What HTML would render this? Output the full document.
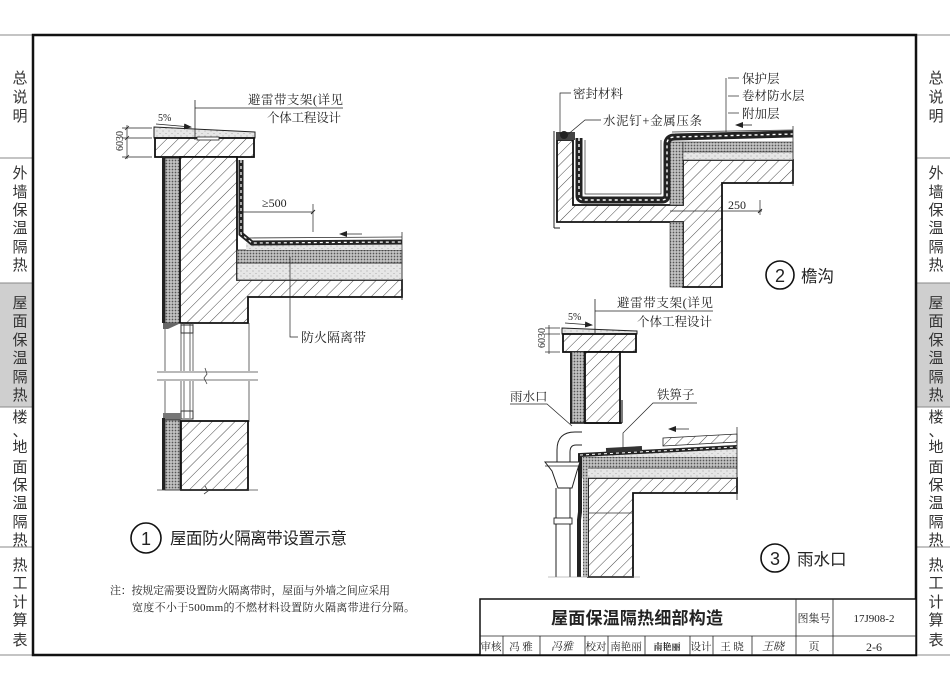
<!DOCTYPE html>
<html><head><meta charset="utf-8">
<style>
html,body{margin:0;padding:0;background:#fff;width:950px;height:691px;overflow:hidden;}
svg{display:block;}
text{font-family:"Liberation Sans","Noto Sans CJK SC",sans-serif;fill:#222;}
.f{font-family:"Liberation Serif","Noto Serif CJK SC",serif;fill:#222;}
.side{font-size:15px;fill:#333;}
</style></head><body>
<svg width="950" height="691" viewBox="0 0 950 691" xmlns="http://www.w3.org/2000/svg">
<defs>
<pattern id="h" width="8" height="8" patternUnits="userSpaceOnUse" patternTransform="rotate(45)"><rect width="8" height="8" fill="#fff"/><line x1="0" y1="0" x2="0" y2="8" stroke="#4a4a4a" stroke-width="1"/></pattern>
<pattern id="ins" width="3" height="3" patternUnits="userSpaceOnUse"><rect width="3" height="3" fill="#c2c2c2"/><circle cx="1.5" cy="1.5" r="0.85" fill="#555"/></pattern>
<pattern id="scr" width="6" height="5" patternUnits="userSpaceOnUse"><rect width="6" height="5" fill="#e6e6e6"/><circle cx="1" cy="1" r="0.5" fill="#888"/><circle cx="4" cy="3.5" r="0.5" fill="#999"/></pattern>
<marker id="ar" markerWidth="8" markerHeight="6" refX="7" refY="3" orient="auto" markerUnits="userSpaceOnUse"><path d="M0,0 L8,3 L0,6 z" fill="#222"/></marker>
</defs>

<!-- ===== Sidebars ===== -->
<rect x="0" y="283" width="32" height="124" fill="#cfcfcf"/>
<rect x="917" y="283" width="33" height="124" fill="#cfcfcf"/>
<g stroke="#888" stroke-width="1">
<line x1="0" y1="35" x2="33" y2="35"/><line x1="0" y1="158" x2="33" y2="158"/>
<line x1="0" y1="283" x2="33" y2="283"/><line x1="0" y1="407" x2="33" y2="407"/>
<line x1="0" y1="547" x2="33" y2="547"/><line x1="0" y1="655" x2="33" y2="655"/>
<line x1="916" y1="35" x2="950" y2="35"/><line x1="916" y1="158" x2="950" y2="158"/>
<line x1="916" y1="283" x2="950" y2="283"/><line x1="916" y1="407" x2="950" y2="407"/>
<line x1="916" y1="547" x2="950" y2="547"/><line x1="916" y1="655" x2="950" y2="655"/>
</g>
<g class="side" text-anchor="middle">
<text x="20" y="83" class="side">总</text><text x="20" y="102" class="side">说</text><text x="20" y="121" class="side">明</text>
<text x="20" y="178" class="side">外</text><text x="20" y="197" class="side">墙</text><text x="20" y="215" class="side">保</text><text x="20" y="233" class="side">温</text><text x="20" y="252" class="side">隔</text><text x="20" y="270" class="side">热</text>
<text x="20" y="308" class="side">屋</text><text x="20" y="326" class="side">面</text><text x="20" y="345" class="side">保</text><text x="20" y="363" class="side">温</text><text x="20" y="382" class="side">隔</text><text x="20" y="400" class="side">热</text>
<text x="20" y="422" class="side">楼</text><text x="20" y="436" class="side">、</text><text x="20" y="452" class="side">地</text><text x="20" y="472" class="side">面</text><text x="20" y="490" class="side">保</text><text x="20" y="508" class="side">温</text><text x="20" y="527" class="side">隔</text><text x="20" y="545" class="side">热</text>
<text x="20" y="570" class="side">热</text><text x="20" y="588" class="side">工</text><text x="20" y="607" class="side">计</text><text x="20" y="625" class="side">算</text><text x="20" y="645" class="side">表</text>

<text x="936" y="83" class="side">总</text><text x="936" y="102" class="side">说</text><text x="936" y="121" class="side">明</text>
<text x="936" y="178" class="side">外</text><text x="936" y="197" class="side">墙</text><text x="936" y="215" class="side">保</text><text x="936" y="233" class="side">温</text><text x="936" y="252" class="side">隔</text><text x="936" y="270" class="side">热</text>
<text x="936" y="308" class="side">屋</text><text x="936" y="326" class="side">面</text><text x="936" y="345" class="side">保</text><text x="936" y="363" class="side">温</text><text x="936" y="382" class="side">隔</text><text x="936" y="400" class="side">热</text>
<text x="936" y="422" class="side">楼</text><text x="936" y="436" class="side">、</text><text x="936" y="452" class="side">地</text><text x="936" y="472" class="side">面</text><text x="936" y="490" class="side">保</text><text x="936" y="508" class="side">温</text><text x="936" y="527" class="side">隔</text><text x="936" y="545" class="side">热</text>
<text x="936" y="570" class="side">热</text><text x="936" y="588" class="side">工</text><text x="936" y="607" class="side">计</text><text x="936" y="625" class="side">算</text><text x="936" y="645" class="side">表</text>
</g>

<!-- ===== Main frame ===== -->
<rect x="33" y="35" width="883" height="620" fill="none" stroke="#111" stroke-width="2.5"/>

<!-- ===== Detail 1 ===== -->
<polygon points="154,127 255,132 255,138 154,138" fill="url(#scr)" stroke="#222" stroke-width="1"/>
<rect x="155" y="138" width="99" height="19" fill="url(#h)" stroke="#111" stroke-width="1.8"/>
<rect x="197" y="137" width="22" height="3" fill="#fff" stroke="#222" stroke-width="0.8"/>
<line x1="195" y1="100" x2="195" y2="140" stroke="#222" stroke-width="0.8"/>
<line x1="195" y1="108" x2="343" y2="108" stroke="#222" stroke-width="0.7"/>
<text x="248" y="104" font-size="12.5" class="f" textLength="95">避雷带支架(详见</text>
<text x="267" y="122" font-size="12.5" class="f" textLength="74">个体工程设计</text>
<text x="158" y="121" font-size="10" class="f">5%</text>
<line x1="156" y1="124" x2="191" y2="127" stroke="#222" stroke-width="0.8" marker-end="url(#ar)"/>
<g stroke="#222" stroke-width="0.7">
<line x1="127" y1="125" x2="127" y2="159"/>
<line x1="122" y1="128" x2="152" y2="128"/><line x1="122" y1="138" x2="152" y2="138"/><line x1="122" y1="157" x2="152" y2="157"/>
<line x1="125" y1="130" x2="129" y2="126"/><line x1="125" y1="140" x2="129" y2="136"/><line x1="125" y1="159" x2="129" y2="155"/>
</g>
<text transform="translate(123,141) rotate(-90)" text-anchor="middle" font-size="10" class="f">6030</text>
<rect x="162" y="157" width="3" height="166" fill="#222"/>
<rect x="165" y="158" width="15" height="165" fill="url(#ins)" stroke="#222" stroke-width="0.8"/>
<polygon points="180,157 237,157 237,280 402,280 402,297 248,297 248,323 180,323" fill="url(#h)" stroke="#111" stroke-width="1.8"/>
<rect x="237" y="263" width="165" height="17" fill="url(#scr)" stroke="#333" stroke-width="0.8"/>
<rect x="237" y="250" width="165" height="13" fill="url(#ins)" stroke="#333" stroke-width="0.8"/>
<rect x="246" y="243" width="156" height="7" fill="url(#scr)"/>
<path d="M241,160 L241,234 L252,243 L402,242" fill="none" stroke="#222" stroke-width="5"/>
<path d="M241,160 L241,234 L252,243 L402,242" fill="none" stroke="#fff" stroke-width="1.2" stroke-dasharray="3,3"/>
<line x1="248" y1="238" x2="402" y2="237" stroke="#333" stroke-width="0.8"/>
<line x1="402" y1="232" x2="402" y2="300" stroke="#333" stroke-width="0.8"/>
<line x1="362" y1="234" x2="340" y2="234" stroke="#222" stroke-width="0.8" marker-end="url(#ar)"/>
<text x="262" y="207" font-size="12" class="f">≥500</text>
<line x1="237" y1="212" x2="313" y2="212" stroke="#222" stroke-width="0.7"/>
<line x1="313" y1="204" x2="313" y2="232" stroke="#222" stroke-width="0.7"/>
<line x1="311" y1="214" x2="315" y2="210" stroke="#222" stroke-width="0.9"/>
<polyline points="290,257 290,337 298,337" fill="none" stroke="#222" stroke-width="0.7"/>
<text x="301" y="342" font-size="13" class="f">防火隔离带</text>
<g stroke="#444" stroke-width="0.8">
<line x1="165" y1="323" x2="165" y2="418"/>
<line x1="181" y1="323" x2="181" y2="418"/><line x1="184" y1="323" x2="184" y2="418"/>
<line x1="190" y1="323" x2="190" y2="418"/><line x1="193" y1="323" x2="193" y2="418"/>
<line x1="249" y1="323" x2="249" y2="422"/>
</g>
<rect x="181" y="325" width="12" height="8" fill="none" stroke="#333" stroke-width="1"/>
<rect x="181" y="411" width="12" height="8" fill="none" stroke="#333" stroke-width="1"/>
<path d="M163,323 L181,323 L168,329 L163,329 Z" fill="#666"/>
<path d="M163,413 L181,413 L181,420 L163,420 Z" fill="#777"/>
<rect x="154" y="371" width="106" height="10" fill="#fff"/>
<g stroke="#444" stroke-width="0.8">
<line x1="157" y1="372" x2="258" y2="372"/><line x1="157" y1="380" x2="258" y2="380"/>
<polyline points="205,368 207,374 204,378 207,384" fill="none"/>
</g>
<rect x="162" y="418" width="3" height="72" fill="#222"/>
<rect x="165" y="420" width="15" height="70" fill="url(#ins)" stroke="#222" stroke-width="0.8"/>
<rect x="181" y="421" width="67" height="69" fill="url(#h)" stroke="#111" stroke-width="1.8"/>
<line x1="157" y1="490" x2="258" y2="490" stroke="#444" stroke-width="0.8"/>
<polyline points="205,486 208,491 204,494" fill="none" stroke="#444" stroke-width="0.8"/>
<circle cx="146" cy="538" r="15" fill="none" stroke="#111" stroke-width="1.6"/>
<text x="146" y="545" text-anchor="middle" font-size="18">1</text>
<text x="170" y="544" font-size="16.5" textLength="177">屋面防火隔离带设置示意</text>
<text x="110" y="594" font-size="11" class="f" textLength="280">注：按规定需要设置防火隔离带时，屋面与外墙之间应采用</text>
<text x="132" y="611" font-size="11" class="f" textLength="283">宽度不小于500mm的不燃材料设置防火隔离带进行分隔。</text>

<!-- ===== Detail 2 ===== -->
<polygon points="557,140 573,140 573,205 683,205 683,160 793,160 793,183 722,183 722,287 683,287 683,222 557,222" fill="url(#h)" stroke="#111" stroke-width="1.8"/>
<rect x="670" y="142" width="13" height="63" fill="url(#ins)" stroke="#333" stroke-width="0.6"/>
<rect x="670" y="222" width="13" height="65" fill="url(#ins)" stroke="#333" stroke-width="0.6"/>
<rect x="683" y="142" width="110" height="10" fill="url(#ins)" stroke="#333" stroke-width="0.6"/>
<rect x="683" y="152" width="110" height="8" fill="url(#scr)" stroke="#333" stroke-width="0.6"/>
<path d="M579,138 L579,196 Q579,200 584,200 L662,200 Q667,200 667,195 L667,144 Q667,137 675,137 L793,134" fill="none" stroke="#222" stroke-width="7"/>
<path d="M579,138 L579,196 Q579,200 584,200 L662,200 Q667,200 667,195 L667,144 Q667,137 675,137 L793,134" fill="none" stroke="#fff" stroke-width="1.4" stroke-dasharray="3,3"/>
<path d="M585,140 L585,194 L661,194 L661,140" fill="none" stroke="#333" stroke-width="0.7"/>
<line x1="672" y1="132" x2="793" y2="130" stroke="#333" stroke-width="0.8"/>
<line x1="793" y1="126" x2="793" y2="186" stroke="#333" stroke-width="0.8"/>
<path d="M556,132 L575,132 L575,140 L556,140 Z" fill="#444"/>
<circle cx="564" cy="135" r="4" fill="#222"/>
<line x1="554" y1="131" x2="554" y2="228" stroke="#222" stroke-width="1"/>
<line x1="554" y1="228" x2="560" y2="228" stroke="#222" stroke-width="1"/>
<polyline points="560,134 560,93 571,93" fill="none" stroke="#222" stroke-width="0.7"/>
<text x="573" y="98" font-size="12.5" class="f">密封材料</text>
<polyline points="566,136 585,120 601,120" fill="none" stroke="#222" stroke-width="0.7"/>
<text x="603" y="125" font-size="12.5" class="f" textLength="99">水泥钉+金属压条</text>
<line x1="726" y1="78" x2="726" y2="132" stroke="#222" stroke-width="0.7"/>
<line x1="728" y1="78" x2="739" y2="78" stroke="#222" stroke-width="0.7"/>
<line x1="728" y1="96" x2="739" y2="96" stroke="#222" stroke-width="0.7"/>
<line x1="728" y1="113" x2="739" y2="113" stroke="#222" stroke-width="0.7"/>
<text x="742" y="83" font-size="12.5" class="f">保护层</text>
<text x="742" y="100" font-size="12.5" class="f">卷材防水层</text>
<text x="742" y="118" font-size="12.5" class="f">附加层</text>
<line x1="752" y1="125" x2="736" y2="125" stroke="#222" stroke-width="0.8" marker-end="url(#ar)"/>
<text x="728" y="209" font-size="12" class="f">250</text>
<line x1="670" y1="211" x2="762" y2="211" stroke="#222" stroke-width="0.7"/>
<line x1="760" y1="200" x2="760" y2="215" stroke="#222" stroke-width="0.7"/>
<line x1="758" y1="213" x2="762" y2="209" stroke="#222" stroke-width="0.9"/>
<circle cx="780" cy="275" r="14" fill="none" stroke="#111" stroke-width="1.6"/>
<text x="780" y="282" text-anchor="middle" font-size="18">2</text>
<text x="801" y="282" font-size="16.5">檐沟</text>

<!-- ===== Detail 3 ===== -->
<polygon points="562,328 637,331 637,334 562,334" fill="url(#scr)" stroke="#222" stroke-width="1"/>
<rect x="563" y="334" width="73" height="18" fill="url(#h)" stroke="#111" stroke-width="1.8"/>
<rect x="570" y="352" width="2.5" height="71" fill="#222"/>
<rect x="572" y="352" width="12" height="71" fill="url(#ins)" stroke="#333" stroke-width="0.6"/>
<rect x="585" y="352" width="35" height="71" fill="url(#h)" stroke="#111" stroke-width="1.8"/>
<line x1="570" y1="423" x2="622" y2="423" stroke="#111" stroke-width="1.5"/>
<line x1="622" y1="400" x2="622" y2="423" stroke="#222" stroke-width="1.2"/>
<line x1="595" y1="299" x2="595" y2="333" stroke="#222" stroke-width="0.8"/>
<line x1="595" y1="311" x2="713" y2="311" stroke="#222" stroke-width="0.7"/>
<text x="617" y="307" font-size="12.5" class="f" textLength="96">避雷带支架(详见</text>
<text x="637" y="326" font-size="12.5" class="f" textLength="75">个体工程设计</text>
<text x="568" y="320" font-size="10" class="f">5%</text>
<line x1="565" y1="323" x2="592" y2="325" stroke="#222" stroke-width="0.8" marker-end="url(#ar)"/>
<g stroke="#222" stroke-width="0.7">
<line x1="549" y1="325" x2="549" y2="354"/>
<line x1="545" y1="328" x2="560" y2="328"/><line x1="545" y1="334" x2="560" y2="334"/><line x1="545" y1="352" x2="560" y2="352"/>
</g>
<text transform="translate(545,338) rotate(-90)" text-anchor="middle" font-size="10" class="f">6030</text>
<polygon points="588,478 737,478 737,493 633,493 633,577 588,577" fill="url(#h)" stroke="#111" stroke-width="1.8"/>
<line x1="588" y1="513" x2="633" y2="513" stroke="#333" stroke-width="0.8"/>
<rect x="583" y="468" width="154" height="10" fill="url(#scr)" stroke="#333" stroke-width="0.6"/>
<rect x="583" y="457" width="154" height="11" fill="url(#ins)" stroke="#333" stroke-width="0.6"/>
<polygon points="583,453 737,446 737,457 583,457" fill="url(#scr)"/>
<rect x="583" y="457" width="5" height="120" fill="url(#ins)"/>
<path d="M579,577 L579,520 L580,512 L580,455 L737,447" fill="none" stroke="#222" stroke-width="4"/>
<path d="M580,455 L737,447" fill="none" stroke="#fff" stroke-width="1" stroke-dasharray="3,3"/>
<polygon points="663,438 737,434 737,442 663,446" fill="url(#h)" stroke="#222" stroke-width="0.8"/>
<rect x="606" y="447" width="36" height="5" fill="#333" transform="rotate(-3 624 449)"/>
<line x1="737" y1="427" x2="737" y2="500" stroke="#333" stroke-width="0.8"/>
<line x1="689" y1="429" x2="669" y2="429" stroke="#222" stroke-width="0.8" marker-end="url(#ar)"/>
<path d="M582,432 L575,432 Q557,432 557,450 L557,468" fill="none" stroke="#222" stroke-width="1"/>
<path d="M582,445 L576,445 Q570,445 570,452 L570,468" fill="none" stroke="#222" stroke-width="1"/>
<polygon points="545,462 580,462 577,471 572,488 558,488 552,471" fill="#fff" stroke="#222" stroke-width="1"/>
<line x1="545" y1="466" x2="580" y2="466" stroke="#222" stroke-width="0.8"/>
<line x1="556" y1="488" x2="556" y2="577" stroke="#222" stroke-width="1"/>
<line x1="570" y1="488" x2="570" y2="577" stroke="#222" stroke-width="1"/>
<rect x="554" y="518" width="18" height="6" fill="#fff" stroke="#222" stroke-width="0.9"/>
<line x1="548" y1="577" x2="640" y2="577" stroke="#888" stroke-width="0.6"/>
<text x="510" y="401" font-size="12.5" class="f">雨水口</text>
<polyline points="510,404 547,404 572,426" fill="none" stroke="#222" stroke-width="0.7"/>
<text x="657" y="399" font-size="12.5" class="f">铁箅子</text>
<polyline points="697,403 653,403 623,433 623,448" fill="none" stroke="#222" stroke-width="0.7"/>
<circle cx="775" cy="558" r="14" fill="none" stroke="#111" stroke-width="1.6"/>
<text x="775" y="565" text-anchor="middle" font-size="18">3</text>
<text x="797" y="565" font-size="16.5">雨水口</text>

<!-- ===== Title block ===== -->
<rect x="480" y="599" width="436" height="56" fill="#fff" stroke="#111" stroke-width="1.5"/>
<g stroke="#222" stroke-width="0.8">
<line x1="480" y1="636" x2="916" y2="636"/>
<line x1="796" y1="599" x2="796" y2="655"/>
<line x1="833" y1="599" x2="833" y2="655"/>
<line x1="503" y1="636" x2="503" y2="655"/>
<line x1="540" y1="636" x2="540" y2="655"/>
<line x1="585" y1="636" x2="585" y2="655"/>
<line x1="608" y1="636" x2="608" y2="655"/>
<line x1="645" y1="636" x2="645" y2="655"/>
<line x1="690" y1="636" x2="690" y2="655"/>
<line x1="713" y1="636" x2="713" y2="655"/>
<line x1="752" y1="636" x2="752" y2="655"/>
</g>
<text x="637" y="624" text-anchor="middle" font-size="17" font-weight="bold" textLength="172">屋面保温隔热细部构造</text>
<text x="814" y="622" text-anchor="middle" font-size="11" class="f">图集号</text>
<text x="874" y="622" text-anchor="middle" font-size="11" class="f">17J908-2</text>
<text x="814" y="650" text-anchor="middle" font-size="11" class="f">页</text>
<text x="874" y="651" text-anchor="middle" font-size="12" class="f">2-6</text>
<text x="491" y="650" text-anchor="middle" font-size="10.5" class="f">审核</text>
<text x="521" y="650" text-anchor="middle" font-size="10.5" class="f">冯 雅</text>
<text x="562" y="650" text-anchor="middle" font-size="11" font-style="italic" class="f">冯雅</text>
<text x="596" y="650" text-anchor="middle" font-size="10.5" class="f">校对</text>
<text x="626" y="650" text-anchor="middle" font-size="10.5" class="f">南艳丽</text>
<text x="667" y="650" text-anchor="middle" font-size="9" font-weight="bold" class="f">南艳丽</text>
<text x="701" y="650" text-anchor="middle" font-size="10.5" class="f">设计</text>
<text x="732" y="650" text-anchor="middle" font-size="10.5" class="f">王 晓</text>
<text x="773" y="650" text-anchor="middle" font-size="11" font-style="italic" class="f">王晓</text>
</svg>
</body></html>
